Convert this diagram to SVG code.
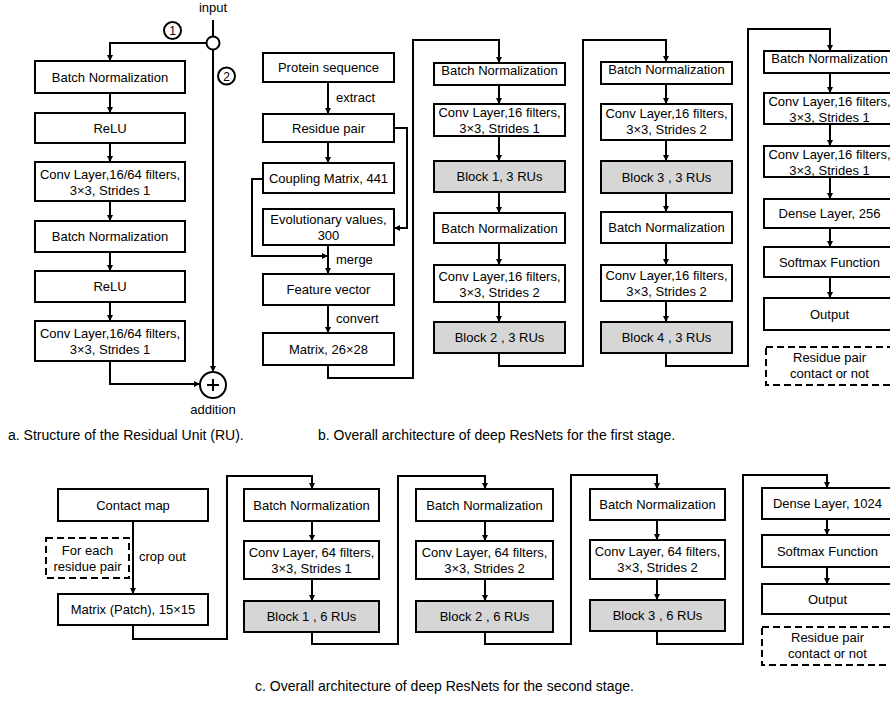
<svg xmlns="http://www.w3.org/2000/svg" width="890" height="704" viewBox="0 0 890 704">
  <style>
    .box { fill: #fff; stroke: #000; stroke-width: 2; }
    .gray { fill: #d6d6d6; }
    .dash { fill: #fff; stroke: #000; stroke-width: 2; stroke-dasharray: 7 4; }
    .t { font-family: "Liberation Sans", Arial, sans-serif; font-size: 13px; fill: #000; text-anchor: middle; }
    .l { font-family: "Liberation Sans", Arial, sans-serif; font-size: 13px; fill: #000; text-anchor: start; }
    .cap { font-family: "Liberation Sans", Arial, sans-serif; font-size: 14px; fill: #000; text-anchor: start; }
    .w { fill: none; stroke: #000; stroke-width: 2; }
    .wa { fill: none; stroke: #000; stroke-width: 2; marker-end: url(#arr); }
    .node { fill: #fff; stroke: #000; stroke-width: 2; }
  </style>
  <defs>
    <marker id="arr" viewBox="0 0 6 6" refX="6" refY="3" markerWidth="6" markerHeight="6" markerUnits="userSpaceOnUse" orient="auto">
      <path d="M0,0 L6,3 L0,6 z" fill="#000"/>
    </marker>
  </defs>
  <rect width="890" height="704" fill="#fff"/>

  <!-- connectors -->
  <g id="connectors">
    <!-- a: residual unit -->
    <path class="w" d="M213,20 V36.5"/>
    <path class="wa" d="M206.5,43 H110 V61"/>
    <path class="wa" d="M110,93 V113"/>
    <path class="wa" d="M110,143 V162"/>
    <path class="wa" d="M110,201 V221"/>
    <path class="wa" d="M110,252 V271"/>
    <path class="wa" d="M110,302 V321"/>
    <path class="wa" d="M110,361 V384 H200"/>
    <path class="wa" d="M213,49.5 V372"/>

    <!-- b: first stage -->
    <path class="wa" d="M328,82 V114"/>
    <path class="wa" d="M328,142 V163"/>
    <path class="wa" d="M394,128 H407 V228 H394"/>
    <path class="wa" d="M263,179 H252 V256 H328"/>
    <path class="wa" d="M328,245 V274"/>
    <path class="wa" d="M328,305 V333"/>
    <path class="wa" d="M328,365 V378 H413 V40 H499 V63"/>
    <path class="wa" d="M499,85 V104"/>
    <path class="wa" d="M499,136 V161"/>
    <path class="wa" d="M499,192 V213"/>
    <path class="wa" d="M499,243 V265"/>
    <path class="wa" d="M499,302 V322"/>
    <path class="wa" d="M499,353 V366 H583 V40 H666 V62"/>
    <path class="wa" d="M666,84 V104"/>
    <path class="wa" d="M666,140 V161"/>
    <path class="wa" d="M666,193 V212"/>
    <path class="wa" d="M666,243 V265"/>
    <path class="wa" d="M666,301 V322"/>
    <path class="wa" d="M666,353 V366 H748 V29 H830 V51"/>
    <path class="wa" d="M830,73 V93"/>
    <path class="wa" d="M830,124 V146"/>
    <path class="wa" d="M830,177 V199"/>
    <path class="wa" d="M830,228 V247"/>
    <path class="wa" d="M830,277 V298"/>

    <!-- c: second stage -->
    <path class="wa" d="M133,521 V594"/>
    <path class="wa" d="M133,625 V639 H227 V476 H312 V489"/>
    <path class="wa" d="M312,521 V541"/>
    <path class="wa" d="M312,579 V601"/>
    <path class="wa" d="M312,632 V644 H398 V476 H485 V489"/>
    <path class="wa" d="M485,521 V541"/>
    <path class="wa" d="M485,579 V601"/>
    <path class="wa" d="M485,632 V644 H571 V475 H657 V489"/>
    <path class="wa" d="M657,520 V540"/>
    <path class="wa" d="M657,579 V600"/>
    <path class="wa" d="M657,631 V644 H743 V475 H827 V488"/>
    <path class="wa" d="M827,519 V535"/>
    <path class="wa" d="M827,567 V584"/>
  </g>

  <!-- a: residual unit nodes -->
  <g id="input">
    <text class="t" x="213" y="12">input</text>
    <circle class="node" cx="213" cy="43" r="6.5"/>
  </g>
  <g id="path1-label">
    <circle class="node" cx="172.5" cy="30.5" r="8.5"/>
    <text class="t" x="172.5" y="35" style="font-size:12px">1</text>
  </g>
  <g id="path2-label">
    <circle class="node" cx="226.5" cy="76" r="8.5"/>
    <text class="t" x="226.5" y="80.5" style="font-size:12px">2</text>
  </g>
  <g id="a-bn1">
    <rect class="box" x="35" y="61" width="150" height="32"/>
    <text class="t" x="110" y="81.5">Batch Normalization</text>
  </g>
  <g id="a-relu1">
    <rect class="box" x="35" y="113" width="150" height="30"/>
    <text class="t" x="110" y="132.5">ReLU</text>
  </g>
  <g id="a-conv1">
    <rect class="box" x="35" y="162" width="150" height="39"/>
    <text class="t" x="110" y="178.5">Conv Layer,16/64 filters,</text>
    <text class="t" x="110" y="194.5">3×3, Strides 1</text>
  </g>
  <g id="a-bn2">
    <rect class="box" x="35" y="221" width="150" height="31"/>
    <text class="t" x="110" y="241">Batch Normalization</text>
  </g>
  <g id="a-relu2">
    <rect class="box" x="35" y="271" width="150" height="31"/>
    <text class="t" x="110" y="291">ReLU</text>
  </g>
  <g id="a-conv2">
    <rect class="box" x="35" y="321" width="150" height="40"/>
    <text class="t" x="110" y="337.5">Conv Layer,16/64 filters,</text>
    <text class="t" x="110" y="353.5">3×3, Strides 1</text>
  </g>
  <g id="addition">
    <circle class="node" cx="213" cy="385" r="13"/>
    <path class="w" d="M207,385 H219 M213,379 V391"/>
    <text class="t" x="213" y="414">addition</text>
  </g>

  <!-- b: inputs column -->
  <g id="protein-sequence">
    <rect class="box" x="263" y="53" width="131" height="29"/>
    <text class="t" x="328.5" y="72">Protein sequence</text>
  </g>
  <text class="l" x="336" y="102">extract</text>
  <g id="residue-pair">
    <rect class="box" x="263" y="114" width="131" height="28"/>
    <text class="t" x="328.5" y="132.5">Residue pair</text>
  </g>
  <g id="coupling-matrix">
    <rect class="box" x="263" y="163" width="131" height="30"/>
    <text class="t" x="328.5" y="182.5">Coupling Matrix, 441</text>
  </g>
  <g id="evolutionary-values">
    <rect class="box" x="263" y="209" width="131" height="36"/>
    <text class="t" x="328.5" y="223.5">Evolutionary values,</text>
    <text class="t" x="328.5" y="239.5">300</text>
  </g>
  <text class="l" x="336" y="264">merge</text>
  <g id="feature-vector">
    <rect class="box" x="263" y="274" width="131" height="31"/>
    <text class="t" x="328.5" y="294">Feature vector</text>
  </g>
  <text class="l" x="336" y="323">convert</text>
  <g id="matrix-26x28">
    <rect class="box" x="263" y="333" width="131" height="32"/>
    <text class="t" x="328.5" y="353.5">Matrix, 26×28</text>
  </g>

  <!-- b: column 2 -->
  <g id="b-bn1">
    <rect class="box" x="434" y="63" width="131" height="22"/>
    <text class="t" x="499.5" y="75">Batch Normalization</text>
  </g>
  <g id="b-conv1">
    <rect class="box" x="434" y="104" width="131" height="32"/>
    <text class="t" x="499.5" y="117">Conv Layer,16 filters,</text>
    <text class="t" x="499.5" y="133">3×3, Strides 1</text>
  </g>
  <g id="b-block1">
    <rect class="box gray" x="434" y="161" width="131" height="31"/>
    <text class="t" x="499.5" y="181">Block 1, 3 RUs</text>
  </g>
  <g id="b-bn2">
    <rect class="box" x="434" y="213" width="131" height="30"/>
    <text class="t" x="499.5" y="232.5">Batch Normalization</text>
  </g>
  <g id="b-conv2">
    <rect class="box" x="434" y="265" width="131" height="37"/>
    <text class="t" x="499.5" y="280.5">Conv Layer,16 filters,</text>
    <text class="t" x="499.5" y="296.5">3×3, Strides 2</text>
  </g>
  <g id="b-block2">
    <rect class="box gray" x="434" y="322" width="131" height="31"/>
    <text class="t" x="499.5" y="342">Block 2 , 3 RUs</text>
  </g>

  <!-- b: column 3 -->
  <g id="b-bn3">
    <rect class="box" x="601" y="62" width="131" height="22"/>
    <text class="t" x="666.5" y="74">Batch Normalization</text>
  </g>
  <g id="b-conv3">
    <rect class="box" x="601" y="104" width="131" height="36"/>
    <text class="t" x="666.5" y="117.5">Conv Layer,16 filters,</text>
    <text class="t" x="666.5" y="133.5">3×3, Strides 2</text>
  </g>
  <g id="b-block3">
    <rect class="box gray" x="601" y="161" width="131" height="32"/>
    <text class="t" x="666.5" y="181.5">Block 3 , 3 RUs</text>
  </g>
  <g id="b-bn4">
    <rect class="box" x="601" y="212" width="131" height="31"/>
    <text class="t" x="666.5" y="232">Batch Normalization</text>
  </g>
  <g id="b-conv4">
    <rect class="box" x="601" y="265" width="131" height="36"/>
    <text class="t" x="666.5" y="280">Conv Layer,16 filters,</text>
    <text class="t" x="666.5" y="296">3×3, Strides 2</text>
  </g>
  <g id="b-block4">
    <rect class="box gray" x="601" y="322" width="131" height="31"/>
    <text class="t" x="666.5" y="342">Block 4 , 3 RUs</text>
  </g>

  <!-- b: column 4 -->
  <g id="b-bn5">
    <rect class="box" x="764" y="51" width="131" height="22"/>
    <text class="t" x="829.5" y="63">Batch Normalization</text>
  </g>
  <g id="b-conv5">
    <rect class="box" x="764" y="93" width="131" height="31"/>
    <text class="t" x="829.5" y="105.5">Conv Layer,16 filters,</text>
    <text class="t" x="829.5" y="121.5">3×3, Strides 1</text>
  </g>
  <g id="b-conv6">
    <rect class="box" x="764" y="146" width="131" height="31"/>
    <text class="t" x="829.5" y="158.5">Conv Layer,16 filters,</text>
    <text class="t" x="829.5" y="174.5">3×3, Strides 1</text>
  </g>
  <g id="b-dense">
    <rect class="box" x="764" y="199" width="131" height="29"/>
    <text class="t" x="829.5" y="218">Dense Layer, 256</text>
  </g>
  <g id="b-softmax">
    <rect class="box" x="764" y="247" width="131" height="30"/>
    <text class="t" x="829.5" y="266.5">Softmax Function</text>
  </g>
  <g id="b-output">
    <rect class="box" x="764" y="298" width="131" height="32"/>
    <text class="t" x="829.5" y="318.5">Output</text>
  </g>
  <g id="b-result">
    <rect class="dash" x="766" y="347" width="131" height="38"/>
    <text class="t" x="829.5" y="362">Residue pair</text>
    <text class="t" x="829.5" y="378">contact or not</text>
  </g>

  <!-- c: second stage -->
  <g id="contact-map">
    <rect class="box" x="58" y="489" width="150" height="32"/>
    <text class="t" x="133" y="509.5">Contact map</text>
  </g>
  <g id="each-pair">
    <rect class="dash" x="46" y="538" width="83" height="40"/>
    <text class="t" x="87.5" y="554.5">For each</text>
    <text class="t" x="87.5" y="570.5">residue pair</text>
  </g>
  <text class="l" x="139" y="561">crop out</text>
  <g id="patch">
    <rect class="box" x="58" y="594" width="150" height="31"/>
    <text class="t" x="133" y="614">Matrix (Patch), 15×15</text>
  </g>

  <g id="c-bn1">
    <rect class="box" x="244" y="489" width="135" height="32"/>
    <text class="t" x="311.5" y="509.5">Batch Normalization</text>
  </g>
  <g id="c-conv1">
    <rect class="box" x="244" y="541" width="135" height="38"/>
    <text class="t" x="311.5" y="556.5">Conv Layer, 64 filters,</text>
    <text class="t" x="311.5" y="572.5">3×3, Strides 1</text>
  </g>
  <g id="c-block1">
    <rect class="box gray" x="244" y="601" width="135" height="31"/>
    <text class="t" x="311.5" y="621">Block 1 , 6 RUs</text>
  </g>

  <g id="c-bn2">
    <rect class="box" x="416" y="489" width="137" height="32"/>
    <text class="t" x="484.5" y="509.5">Batch Normalization</text>
  </g>
  <g id="c-conv2">
    <rect class="box" x="416" y="541" width="137" height="38"/>
    <text class="t" x="484.5" y="556.5">Conv Layer, 64 filters,</text>
    <text class="t" x="484.5" y="572.5">3×3, Strides 2</text>
  </g>
  <g id="c-block2">
    <rect class="box gray" x="416" y="601" width="137" height="31"/>
    <text class="t" x="484.5" y="621">Block 2 , 6 RUs</text>
  </g>

  <g id="c-bn3">
    <rect class="box" x="590" y="489" width="135" height="31"/>
    <text class="t" x="657.5" y="509">Batch Normalization</text>
  </g>
  <g id="c-conv3">
    <rect class="box" x="590" y="540" width="135" height="39"/>
    <text class="t" x="657.5" y="556">Conv Layer, 64 filters,</text>
    <text class="t" x="657.5" y="572">3×3, Strides 2</text>
  </g>
  <g id="c-block3">
    <rect class="box gray" x="590" y="600" width="135" height="31"/>
    <text class="t" x="657.5" y="620">Block 3 , 6 RUs</text>
  </g>

  <g id="c-dense">
    <rect class="box" x="762" y="488" width="131" height="31"/>
    <text class="t" x="827.5" y="508">Dense Layer, 1024</text>
  </g>
  <g id="c-softmax">
    <rect class="box" x="762" y="535" width="131" height="32"/>
    <text class="t" x="827.5" y="555.5">Softmax Function</text>
  </g>
  <g id="c-output">
    <rect class="box" x="762" y="584" width="131" height="30"/>
    <text class="t" x="827.5" y="603.5">Output</text>
  </g>
  <g id="c-result">
    <rect class="dash" x="762" y="627" width="131" height="38"/>
    <text class="t" x="827.5" y="642">Residue pair</text>
    <text class="t" x="827.5" y="658">contact or not</text>
  </g>

  <!-- captions -->
  <text class="cap" x="8" y="440">a. Structure of the Residual Unit (RU).</text>
  <text class="cap" x="318" y="440">b. Overall architecture of deep ResNets for the first stage.</text>
  <text class="cap" x="255" y="691">c. Overall architecture of deep ResNets for the second stage.</text>
</svg>
